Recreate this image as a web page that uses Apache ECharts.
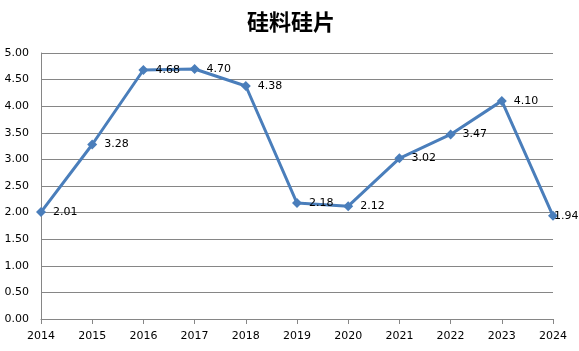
<!DOCTYPE html>
<html>
<head>
<meta charset="utf-8">
<script src="https://cdn.jsdelivr.net/npm/echarts@6/dist/echarts.min.js"></script>
<style>
  html, body { margin: 0; padding: 0; background: #fff; }
  #main { width: 579px; height: 351px; }
</style>
</head>
<body>
<div id="main"></div>
<script>
// data
let years = ['2014', '2015', '2016', '2017', '2018', '2019', '2020', '2021', '2022', '2023', '2024'];
let values = [2.01, 3.28, 4.68, 4.70, 4.38, 2.18, 2.12, 3.02, 3.47, 4.10, 1.94];

// last label is squeezed against the right edge, like in the original
let seriesData = values.map((v, i) => {
  if (i === values.length - 1) {
    return { value: v, label: { distance: -4 } };
  }
  return v;
});

let chart = echarts.init(document.getElementById('main'));
let option = {
  animation: false,
  title: {
    text: '硅料硅片',
    left: 286,
    textAlign: 'center',
    top: 6,
    textStyle: {
      fontFamily: 'Noto Sans CJK SC',
      fontSize: 22,
      fontWeight: 'bold',
      color: '#000'
    }
  },
  grid: { left: 41, right: 26, top: 53, bottom: 32 },
  xAxis: {
    type: 'category',
    boundaryGap: false,
    data: years,
    axisLine: { lineStyle: { color: '#868686', width: 1 } },
    axisTick: { show: true, length: 5, alignWithLabel: true, lineStyle: { color: '#868686' } },
    axisLabel: { color: '#000', fontSize: 11, fontFamily: 'DejaVu Sans', margin: 12 }
  },
  yAxis: {
    type: 'value',
    min: 0, max: 5, interval: 0.5,
    axisLine: { show: true, lineStyle: { color: '#868686', width: 1 } },
    axisTick: { show: false },
    axisLabel: {
      color: '#000', fontSize: 11, fontFamily: 'DejaVu Sans', margin: 12,
      formatter: v => v.toFixed(2)
    },
    splitLine: { lineStyle: { color: '#868686', width: 1 } }
  },
  series: [{
    type: 'line',
    data: seriesData,
    symbol: 'diamond',
    symbolSize: 10,
    lineStyle: { color: '#4a7ebb', width: 3 },
    itemStyle: { color: '#4a7ebb' },
    label: {
      show: true,
      position: 'right',
      distance: 7,
      color: '#000',
      fontSize: 11,
      fontFamily: 'DejaVu Sans',
      formatter: p => p.value.toFixed(2)
    }
  }]
};
chart.setOption(option, true);
</script>
</body>
</html>
